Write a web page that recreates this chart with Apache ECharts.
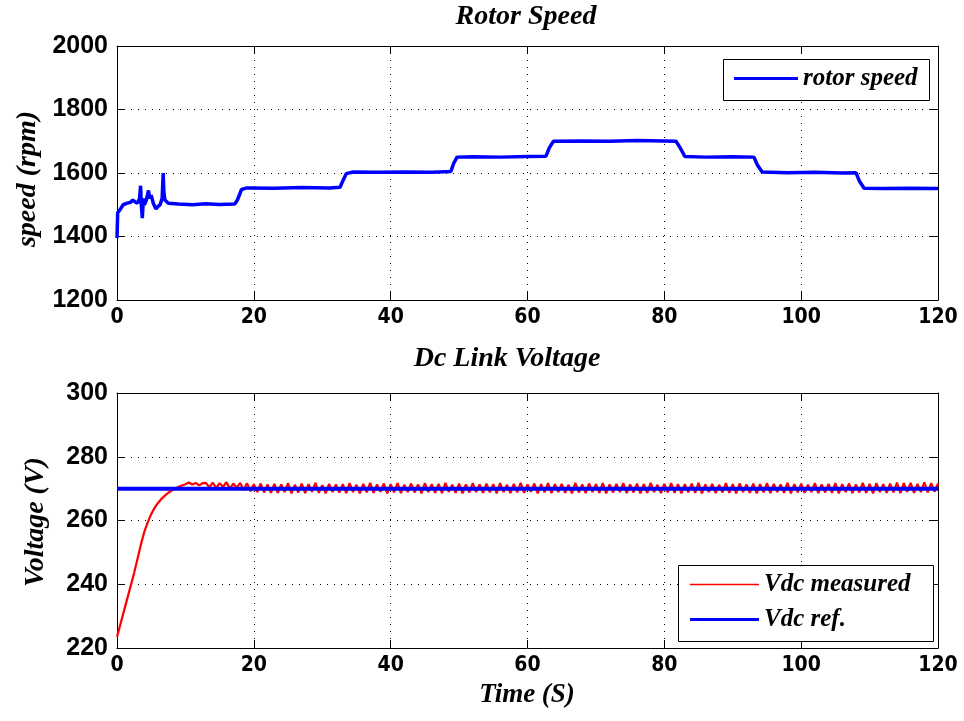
<!DOCTYPE html>
<html><head><meta charset="utf-8">
<script src="https://cdn.jsdelivr.net/npm/echarts@6/dist/echarts.min.js"></script>
<style>html,body{margin:0;padding:0;background:#fff}#c{width:964px;height:721px}</style>
</head><body><div id="c"></div>
<script>
// ---- data ----
var xTicks = [0, 20, 40, 60, 80, 100, 120];
var speedTicks = [1200, 1400, 1600, 1800, 2000];
var voltTicks = [220, 240, 260, 280, 300];

var speedT = [0,0.1,0.4,0.9,1.5,2.0,2.3,2.7,3.0,3.3,3.45,3.55,3.7,3.85,4.0,4.3,4.6,4.8,5.0,5.3,5.7,6.0,6.3,6.6,6.75,6.85,7.0,7.5,9,11,13,15,17.2,17.6,18.2,19,23,27,31,32.6,33.0,33.5,34.5,38,42,46,48.8,49.2,49.7,52,56,60,62.7,63.2,63.8,68,72,76,80,81.7,82.3,83.0,86,90,93.1,93.6,94.3,98,102,106,108.0,108.5,109.2,112,116,120];
var speedV = [1395,1475,1483,1500,1505,1508,1515,1508,1505,1520,1560,1500,1458,1520,1500,1515,1545,1520,1530,1505,1487,1495,1500,1520,1600,1540,1515,1505,1502,1500,1503,1501,1502,1515,1548,1553,1552,1554,1553,1555,1575,1598,1603,1602,1603,1602,1605,1630,1650,1651,1650,1652,1653,1680,1700,1701,1700,1702,1701,1700,1680,1652,1650,1651,1650,1625,1603,1601,1602,1600,1601,1575,1552,1551,1552,1551];

var vdcRiseT = [0,0.5,1,1.5,2,2.5,3,3.5,4,4.5,5,5.5,6,6.5,7,7.5,8,8.5,9,9.5,10,10.5,11,11.5,12,12.5];
var vdcRiseV = [223.5,227.5,231.5,235.5,239.5,243.5,248,252.5,256.5,259.5,262,264,265.5,266.8,267.8,268.7,269.4,270,270.6,271,271.4,271.9,271.3,271.8,271.0,271.7];
var vdcSteadyStart = 13, vdcSteadyStep = 0.5;
var vdcSteadyV = [
 271.8,270.4,271.9,270.2,271.7,270.6,272.0,270.0,271.6,270.3,271.8,269.6,271.7,269.2,271.4,268.9,271.6,268.8,271.3,268.7,
 271.5,268.7,271.3,268.9,271.7,268.5,271.2,268.8,271.6,268.6,271.4,269.0,271.8,268.7,271.1,268.5,271.5,268.9,271.3,268.8,
 271.4,268.6,271.7,268.9,271.2,268.5,271.5,268.8,271.8,268.7,271.3,269.0,271.6,268.5,271.4,268.8,271.7,268.6,271.2,268.9,
 271.6,268.8,271.3,268.5,271.7,268.9,271.4,268.7,271.5,268.6,271.8,269.0,271.2,268.7,271.6,268.5,271.3,268.8,271.7,268.9,
 271.3,268.7,271.6,268.8,271.4,268.5,271.7,268.9,271.2,268.6,271.5,268.8,271.8,268.7,271.3,269.0,271.6,268.5,271.4,268.8,
 271.7,268.6,271.4,268.9,271.5,268.7,271.2,268.5,271.8,268.8,271.3,268.6,271.6,268.9,271.4,268.7,271.7,268.5,271.3,268.8,
 271.5,268.9,271.7,268.6,271.3,268.8,271.6,268.5,271.4,268.7,271.8,268.9,271.2,268.6,271.5,268.8,271.7,268.7,271.4,268.5,
 271.4,268.8,271.6,268.7,271.8,268.5,271.3,268.9,271.5,268.6,271.2,268.8,271.7,268.7,271.4,268.5,271.6,268.9,271.3,268.7,
 271.6,268.5,271.4,268.8,271.7,268.6,271.5,268.9,271.3,268.7,271.8,268.5,271.4,268.8,271.6,268.7,271.2,268.9,271.7,268.6,
 271.3,268.8,271.5,268.7,271.7,268.5,271.4,268.9,271.6,268.6,271.3,268.8,271.8,268.7,271.5,268.5,271.7,268.9,271.4,268.7,
 271.6,268.8,271.9,268.6,271.7,269.0,271.8,268.7,271.5,268.9,272.0,268.8,271.7,269.1,271.6];
var vdcRefT = [0, 120];
var vdcRefV = [270, 270];

// ---- build ----
function pairs(t, v){ var o=[]; for(var i=0;i<t.length;i++) o.push([t[i], v[i]]); return o; }
var speedData = pairs(speedT, speedV);
var vdcData = pairs(vdcRiseT, vdcRiseV);
for (var i=0;i<vdcSteadyV.length;i++) vdcData.push([vdcSteadyStart + vdcSteadyStep*i, vdcSteadyV[i]]);
var refData = pairs(vdcRefT, vdcRefV);

var serif = "'Liberation Serif', 'DejaVu Serif', serif";
var narrow = "'Liberation Sans Narrow', 'DejaVu Sans Condensed', sans-serif";
var sans = "'Liberation Sans', Arial, sans-serif";

function xAx(grid, pos, labels){
  return {type:'value', gridIndex:grid, position:pos, min:xTicks[0], max:xTicks[xTicks.length-1], interval:20,
    axisLine:{show:true, onZero:false, lineStyle:{color:'#000', width:1}},
    axisTick:{show:true, inside:true, length:8, lineStyle:{color:'#000'}},
    axisLabel:{show:labels, color:'#000', fontFamily:narrow, fontWeight:'bold', fontSize:21, margin:7, formatter:function(v){return String(v);}},
    splitLine:{show:labels, lineStyle:{color:'#000', type:[1,6], width:1}}};
}
function yAx(grid, pos, ticks, labels){
  return {type:'value', gridIndex:grid, position:pos, min:ticks[0], max:ticks[ticks.length-1], interval:ticks[1]-ticks[0],
    axisLine:{show:true, onZero:false, lineStyle:{color:'#000', width:1}},
    axisTick:{show:true, inside:true, length:8, lineStyle:{color:'#000'}},
    axisLabel:{show:labels, color:'#000', fontFamily:sans, fontWeight:'bold', fontSize:25, margin:9, formatter:function(v){return String(v);}},
    splitLine:{show:labels, lineStyle:{color:'#000', type:[1,6], width:1}}};
}
var legendText = {color:'#000', fontFamily:serif, fontStyle:'italic', fontWeight:'bold', fontSize:25};

var option = {
  backgroundColor:'#fff',
  animation:false,
  grid:[
    {left:117, top:46, width:821, height:254, show:false},
    {left:117, top:393, width:821, height:255, show:false}
  ],
  xAxis:[xAx(0,'bottom',true), xAx(0,'top',false), xAx(1,'bottom',true), xAx(1,'top',false)],
  yAxis:[yAx(0,'left',speedTicks,true), yAx(0,'right',speedTicks,false), yAx(1,'left',voltTicks,true), yAx(1,'right',voltTicks,false)],
  legend:[
    {data:['rotor speed'], left:734, top:66, icon:'rect', itemWidth:64, itemHeight:3, itemGap:5, textStyle:legendText, padding:0, z:20},
    {data:['Vdc measured'], left:690, top:572, icon:'rect', itemWidth:69, itemHeight:1.5, textStyle:legendText, padding:0, z:20},
    {data:['Vdc ref.'], left:690, top:607, icon:'rect', itemWidth:69, itemHeight:3, textStyle:legendText, padding:0, z:20}
  ],
  graphic:[
    {type:'rect', shape:{x:723.5, y:59.5, width:206, height:41}, style:{fill:'#fff', stroke:'#000', lineWidth:1}, z:10},
    {type:'rect', shape:{x:678.5, y:565.5, width:255, height:76}, style:{fill:'#fff', stroke:'#000', lineWidth:1}, z:10},
    {type:'text', x:526, y:17, style:{text:'Rotor Speed', fill:'#000', font:"italic bold 28px "+serif, textAlign:'center', textVerticalAlign:'middle'}},
    {type:'text', x:507, y:359, style:{text:'Dc Link Voltage', fill:'#000', font:"italic bold 28px "+serif, textAlign:'center', textVerticalAlign:'middle'}},
    {type:'text', x:527, y:695, style:{text:'Time (S)', fill:'#000', font:"italic bold 27px "+serif, textAlign:'center', textVerticalAlign:'middle'}},
    {type:'text', x:28, y:179, rotation:Math.PI/2, style:{text:'speed (rpm)', fill:'#000', font:"italic bold 28px "+serif, textAlign:'center', textVerticalAlign:'middle'}},
    {type:'text', x:36, y:522, rotation:Math.PI/2, style:{text:'Voltage (V)', fill:'#000', font:"italic bold 28px "+serif, textAlign:'center', textVerticalAlign:'middle'}}
  ],
  series:[
    {name:'rotor speed', type:'line', xAxisIndex:0, yAxisIndex:0, data:speedData, showSymbol:false, symbol:'none',
      lineStyle:{color:'#0000ff', width:3.5}, itemStyle:{color:'#0000ff'}, z:3},
    {name:'Vdc measured', type:'line', xAxisIndex:2, yAxisIndex:2, data:vdcData, showSymbol:false, symbol:'none',
      lineStyle:{color:'#ff0000', width:2.2}, itemStyle:{color:'#ff0000'}, z:3},
    {name:'Vdc ref.', type:'line', xAxisIndex:2, yAxisIndex:2, data:refData, showSymbol:false, symbol:'none',
      lineStyle:{color:'#0000ff', width:4}, itemStyle:{color:'#0000ff'}, z:4}
  ]
};
var chart = echarts.init(document.getElementById('c'), null, {renderer:'canvas'});
chart.setOption(option);
</script></body></html>
